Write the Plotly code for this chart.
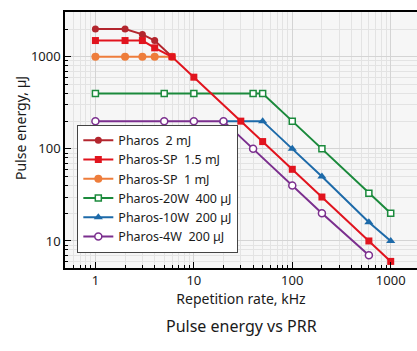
import plotly.graph_objects as go

# ---- data ----
prr_2mj = [1, 2, 3, 4, 6]
e_2mj = [2000, 2000, 1750, 1500, 1000]

prr_sp15 = [1, 2, 3, 4, 6, 10, 30, 50, 100, 200, 600, 1000]
e_sp15 = [1500, 1500, 1500, 1250, 1000, 600, 200, 120, 60, 30, 10, 6]

prr_sp1 = [1, 2, 3, 4, 6]
e_sp1 = [1000, 1000, 1000, 1000, 1000]

prr_20w = [1, 5, 10, 40, 50, 100, 200, 600, 1000]
e_20w = [400, 400, 400, 400, 400, 200, 100, 33, 20]

prr_10w = [20, 50, 100, 200, 600, 1000]
e_10w = [200, 200, 100, 50, 16, 10]

prr_4w = [1, 5, 10, 20, 40, 100, 200, 600]
e_4w = [200, 200, 200, 200, 100, 40, 20, 7]

names = ["Pharos\u00a0 2 mJ", "Pharos-SP\u00a0 1.5 mJ", "Pharos-SP\u00a0 1 mJ",
         "Pharos-20W\u00a0 400 \u00b5J", "Pharos-10W\u00a0 200 \u00b5J", "Pharos-4W\u00a0 200 \u00b5J"]

x_ticks = [1, 10, 100, 1000]
y_ticks = [10, 100, 1000]

FONT = "Noto Sans"

fig = go.Figure()

def add(x, y, name, color, symbol, size, rank, open_=False):
    marker = dict(symbol=symbol, size=size, color="white" if open_ else color,
                  line=dict(color=color, width=1.5 if open_ else 0))
    fig.add_trace(go.Scatter(x=x, y=y, name=name, mode="lines+markers",
                             line=dict(color=color, width=2), marker=marker,
                             legendrank=rank))

# draw order (bottom to top), legend order via legendrank
add(prr_2mj, e_2mj, names[0], "#b3262e", "circle", 7, 1)
add(prr_sp1, e_sp1, names[2], "#ee7d3b", "circle", 8, 3)
add(prr_20w, e_20w, names[3], "#1b8a3c", "square", 6, 4, open_=True)
add(prr_10w, e_10w, names[4], "#1d6aa9", "triangle-up", 8, 5)
add(prr_4w, e_4w, names[5], "#7b2f8e", "circle", 7, 6, open_=True)
add(prr_sp15, e_sp15, names[1], "#e1141e", "square", 7, 2)

axis_common = dict(
    type="log", showline=True, linecolor="black", linewidth=1.5,
    ticks="inside", ticklen=6, tickcolor="black", tickwidth=1,
    showgrid=True, gridcolor="#d4d4d4", gridwidth=1.2,
    zeroline=False,
    tickfont=dict(family=FONT, size=13, color="#1a1a1a"),
    minor=dict(ticks="inside", ticklen=3, tickcolor="black", tickwidth=1,
               showgrid=True, gridcolor="#e3e3e3", gridwidth=1.2, dtick="D1"),
)

fig.update_layout(
    width=417, height=351,
    margin=dict(l=65, r=0, t=12, b=83),
    paper_bgcolor="white", plot_bgcolor="#f6f6f6",
    font=dict(family=FONT, size=13, color="#1a1a1a"),
    xaxis=dict(axis_common, range=[-0.309, 3.267], tickvals=x_ticks,
               ticktext=[str(v) for v in x_ticks], mirror=True,
               title=dict(text="Repetition rate, kHz", font=dict(size=14), standoff=6)),
    yaxis=dict(axis_common, range=[0.7065, 3.486], tickvals=y_ticks,
               ticktext=[str(v) for v in y_ticks]),
    legend=dict(x=0.035, y=0.06, xanchor="left", yanchor="bottom",
                bgcolor="white", bordercolor="#444", borderwidth=1,
                font=dict(family=FONT, size=12.5, color="#1a1a1a"),
                tracegroupgap=0, itemwidth=30),
    showlegend=True,
    annotations=[
        dict(text="Pulse energy, \u00b5J", textangle=-90, x=20, y=128,
             xref="paper", yref="paper", showarrow=False,
             font=dict(family=FONT, size=14, color="#1a1a1a")),
        dict(text="Pulse energy vs PRR", x=0.5, y=0, showarrow=False,
             xref="paper", yref="paper",
             font=dict(family=FONT, size=16, color="#1a1a1a")),
    ],
)

# position annotations in pixel terms converted to paper coords
plot_left, plot_right, plot_top, plot_bottom = 65, 417, 12, 268
pw, ph = plot_right - plot_left, plot_bottom - plot_top
def px_to_paper(px, py):
    return (px - plot_left) / pw, (plot_bottom - py) / ph

ax, ay = px_to_paper(20, 128)
fig.layout.annotations[0].update(x=ax, y=ay, xanchor="center", yanchor="middle")
tx, ty = px_to_paper(241, 326)
fig.layout.annotations[1].update(x=tx, y=ty, xanchor="center", yanchor="middle")

fig.write_html("out.html")
